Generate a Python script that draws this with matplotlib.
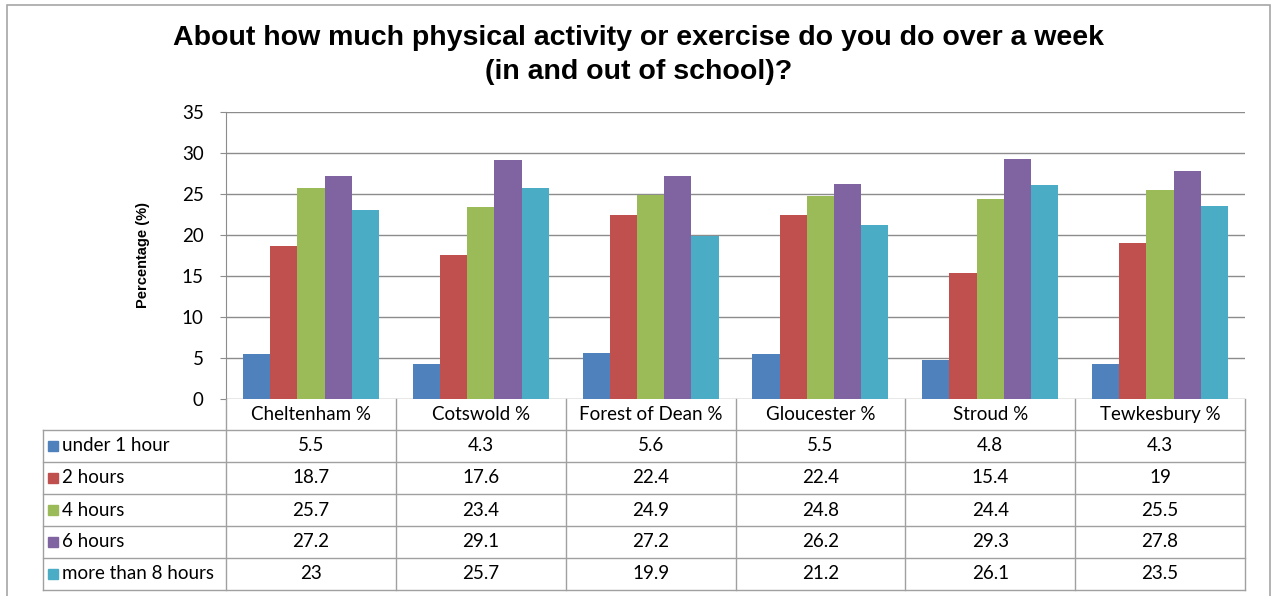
import matplotlib.pyplot as plt
from matplotlib.patches import Rectangle

# data
areas = ['Cheltenham %', 'Cotswold %', 'Forest of Dean %', 'Gloucester %', 'Stroud %', 'Tewkesbury %']
series_names = ['under 1 hour', '2 hours', '4 hours', '6 hours', 'more than 8 hours']
under_1 = [5.5, 4.3, 5.6, 5.5, 4.8, 4.3]
hours_2 = [18.7, 17.6, 22.4, 22.4, 15.4, 19]
hours_4 = [25.7, 23.4, 24.9, 24.8, 24.4, 25.5]
hours_6 = [27.2, 29.1, 27.2, 26.2, 29.3, 27.8]
over_8 = [23, 25.7, 19.9, 21.2, 26.1, 23.5]
values = [under_1, hours_2, hours_4, hours_6, over_8]
colors = ['#4F81BD', '#C0504D', '#9BBB59', '#8064A2', '#4BACC6']

W, H = 1277, 596
fig = plt.figure(figsize=(W / 100, H / 100), dpi=100)
tfont = 'Lato'

def fx(px):
    return px / W

def fy(py):
    return 1 - py / H

# outer border
fig.patches.append(Rectangle((fx(7), fy(600)), fx(1270) - fx(7), fy(5) - fy(600),
                             transform=fig.transFigure, fill=False, edgecolor='#a6a6a6', lw=1.2))

fig.text(0.5, fy(38), 'About how much physical activity or exercise do you do over a week',
         ha='center', va='center', fontsize=20.5, fontweight='bold', family='Liberation Sans')
fig.text(0.5, fy(72), '(in and out of school)?',
         ha='center', va='center', fontsize=20.5, fontweight='bold', family='Liberation Sans')

L, R, T, B = 226, 1245, 112, 399
ax = fig.add_axes([fx(L), fy(B), fx(R) - fx(L), fy(T) - fy(B)])
n = len(areas)
bw = 0.16
for i, (name, vals) in enumerate(zip(series_names, values)):
    xs = [k + (i - 2) * bw for k in range(n)]
    ax.bar(xs, vals, width=bw, color=colors[i], label=name, zorder=3)

ax.set_xlim(-0.5, n - 0.5)
ax.set_ylim(0, 35)
ax.set_yticks(range(0, 36, 5))
ax.set_xticks([])
ax.yaxis.grid(True, color='#8c8c8c', lw=1, zorder=0)
for s in ['top', 'right', 'bottom']:
    ax.spines[s].set_visible(False)
ax.spines['left'].set_color('#8c8c8c')
ax.tick_params(axis='y', length=4, color='#8c8c8c', labelsize=13.5, pad=12)
for lab in ax.get_yticklabels():
    lab.set_family(tfont)
ax.set_ylabel('Percentage (%)', fontsize=10.5, fontweight='bold', family='Liberation Sans', labelpad=23)

# data table under the plot
TL, TB = 43, 590
header_h = 31
row_h = (TB - B - header_h) / len(series_names)
tax = fig.add_axes([fx(TL), fy(TB), fx(R) - fx(TL), fy(B) - fy(TB)])
tax.set_xlim(TL, R)
tax.set_ylim(TB, B)
tax.axis('off')
col_w = (R - L) / n
lc = '#a0a0a0'

for k in range(n + 1):
    x = L + k * col_w
    tax.plot([x, x], [B, TB], color=lc, lw=1, clip_on=False)
tax.plot([TL, TL], [B + header_h, TB], color=lc, lw=1, clip_on=False)
for r in range(len(series_names) + 1):
    y = B + header_h + r * row_h
    tax.plot([TL, R], [y, y], color=lc, lw=1, clip_on=False)

for k, a in enumerate(areas):
    tax.text(L + (k + 0.5) * col_w, B + header_h / 2, a, ha='center', va='center',
             fontsize=13.5, family=tfont)

for r, (name, vals) in enumerate(zip(series_names, values)):
    yc = B + header_h + (r + 0.5) * row_h
    tax.add_patch(Rectangle((TL + 5, yc - 5), 10, 10, color=colors[r], clip_on=False))
    tax.text(TL + 19, yc, name, ha='left', va='center', fontsize=13.5, family=tfont)
    for k, v in enumerate(vals):
        tax.text(L + (k + 0.5) * col_w, yc, f'{v:g}', ha='center', va='center',
                 fontsize=13.5, family=tfont)

fig.savefig('out.png', dpi=100)
